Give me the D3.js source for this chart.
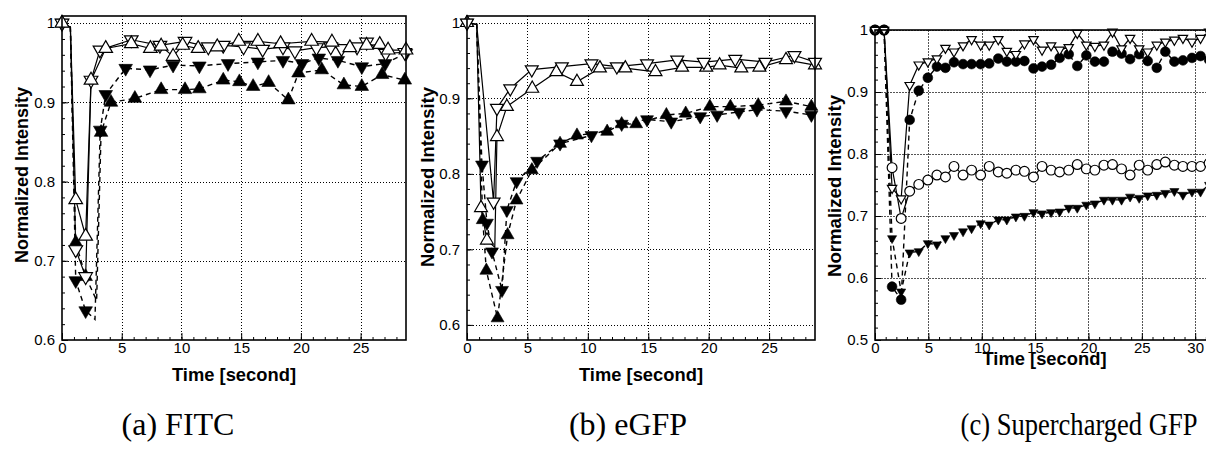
<!DOCTYPE html>
<html>
<head>
<meta charset="utf-8">
<script src="https://cdn.jsdelivr.net/npm/d3@7"></script>
<style>
  body { margin: 0; background: #fff; }
  svg { display: block; }
</style>
</head>
<body>
<svg id="fig"></svg>
<script>
// ---------------- data ----------------
// (a) FITC : [time (s), normalized intensity]
const fitcOpenUp = [[0,1.0],[0.7,0.995],[1.15,0.777],[1.98,0.731],[2.43,0.928],[3.66,0.968],[5.8,0.974],[7.4,0.968],[8.3,0.971],[9.3,0.958],[10.1,0.972],[11.4,0.968],[13.0,0.970],[14.8,0.977],[16.4,0.977],[18.3,0.974],[20.9,0.977],[22.6,0.976],[24.1,0.969],[25.5,0.972],[26.6,0.973],[27.3,0.966],[28.8,0.966]];
const fitcOpenDown = [[0,1.0],[0.7,0.995],[1.15,0.714],[1.98,0.680],[2.43,0.928],[3.18,0.966],[5.8,0.979],[8.2,0.972],[10.3,0.977],[12.25,0.970],[13.5,0.972],[15.2,0.970],[16.8,0.967],[18.5,0.970],[19.5,0.965],[21.3,0.969],[22.5,0.970],[23.4,0.968],[24.7,0.970],[25.5,0.976],[27.1,0.962],[28.7,0.963]];
const fitcFilledDown = [[0,1.0],[0.7,0.995],[1.15,0.675],[1.98,0.637],[2.76,0.626],[3.2,0.865],[3.66,0.910],[5.33,0.943],[7.37,0.941],[9.3,0.947],[11.5,0.946],[13.9,0.949],[16.4,0.951],[18.5,0.953],[20.1,0.949],[21.5,0.956],[23.1,0.953],[25.1,0.945],[27.05,0.949],[28.8,0.962]];
const fitcFilledUp = [[0,1.0],[0.7,0.995],[1.15,0.723],[1.98,0.680],[2.9,0.650],[3.27,0.862],[4.1,0.900],[6.1,0.905],[8.3,0.916],[10.3,0.916],[11.5,0.917],[13.5,0.928],[14.85,0.926],[16.0,0.920],[17.3,0.925],[18.95,0.903],[19.8,0.937],[21.75,0.941],[23.6,0.922],[25.1,0.920],[26.8,0.935],[28.7,0.928]];

// (b) eGFP
const egfpOpenUp = [[0,1.0],[0.8,0.998],[1.16,0.755],[1.65,0.712],[2.3,0.703],[2.48,0.849],[3.3,0.889],[5.4,0.913],[7.4,0.935],[9.1,0.922],[11.0,0.940],[13.1,0.940],[15.6,0.935],[17.8,0.941],[19.8,0.941],[20.9,0.944],[22.7,0.940],[24.2,0.941],[26.4,0.951],[28.8,0.944]];
const egfpOpenDown = [[0,1.0],[0.8,0.998],[2.2,0.763],[2.48,0.887],[3.58,0.913],[5.36,0.938],[7.85,0.942],[10.3,0.946],[12.4,0.942],[14.9,0.946],[17.4,0.951],[19.6,0.948],[22.2,0.952],[24.7,0.948],[27.1,0.957],[28.8,0.948]];
const egfpFilledDown = [[0,1.0],[0.8,0.998],[1.24,0.812],[1.65,0.735],[2.07,0.697],[2.9,0.646],[3.3,0.752],[4.1,0.790],[5.8,0.817],[7.7,0.840],[10.3,0.851],[12.8,0.866],[14.9,0.872],[16.9,0.869],[19.3,0.876],[20.7,0.878],[22.5,0.882],[24.0,0.885],[26.4,0.883],[28.5,0.878]];
const egfpFilledUp = [[0,1.0],[0.8,0.998],[1.3,0.739],[1.6,0.672],[2.53,0.609],[3.36,0.719],[4.1,0.765],[5.37,0.805],[7.7,0.840],[9.1,0.851],[11.6,0.856],[12.8,0.866],[14.0,0.866],[16.5,0.878],[18.1,0.880],[20.1,0.889],[21.8,0.889],[24.1,0.891],[26.4,0.896],[28.5,0.889]];

// (c) Supercharged GFP : common time base
const scTime = [0, 0.85, 1.6, 2.45, 3.25, 4.1, 4.95, 5.8, 6.6, 7.4, 8.25, 9.05, 9.9, 10.7, 11.55, 12.35, 13.2, 14.0, 14.85, 15.65, 16.5, 17.3, 18.15, 18.95, 19.8, 20.6, 21.45, 22.25, 23.1, 23.9, 24.75, 25.55, 26.4, 27.2, 28.05, 28.85, 29.7, 30.5, 31.3];
const scOpenDown = [1.0, 1.0, 0.745, 0.728, 0.911, 0.944, 0.949, 0.954, 0.971, 0.965, 0.975, 0.985, 0.976, 0.976, 0.985, 0.966, 0.961, 0.978, 0.985, 0.968, 0.975, 0.968, 0.972, 0.995, 0.976, 0.974, 0.976, 0.997, 0.970, 0.987, 0.970, 0.965, 0.976, 0.981, 0.984, 0.987, 0.981, 0.987, 0.997];
const scFilledCircle = [1.0, 1.0, 0.586, 0.565, 0.855, 0.902, 0.923, 0.941, 0.939, 0.948, 0.945, 0.945, 0.945, 0.946, 0.954, 0.949, 0.949, 0.950, 0.938, 0.941, 0.944, 0.955, 0.961, 0.942, 0.959, 0.949, 0.949, 0.965, 0.962, 0.953, 0.961, 0.950, 0.939, 0.965, 0.949, 0.951, 0.955, 0.958, 0.952];
const scOpenCircle = [1.0, 1.0, 0.778, 0.696, 0.740, 0.751, 0.758, 0.766, 0.763, 0.780, 0.766, 0.774, 0.766, 0.780, 0.771, 0.769, 0.774, 0.772, 0.763, 0.780, 0.774, 0.771, 0.774, 0.783, 0.776, 0.774, 0.782, 0.783, 0.776, 0.766, 0.782, 0.774, 0.783, 0.787, 0.782, 0.780, 0.780, 0.780, 0.785];
const scFilledDown = [1.0, 1.0, 0.664, 0.578, 0.641, 0.643, 0.656, 0.654, 0.664, 0.669, 0.675, 0.680, 0.688, 0.686, 0.694, 0.694, 0.699, 0.700, 0.706, 0.704, 0.706, 0.707, 0.713, 0.713, 0.718, 0.720, 0.726, 0.726, 0.726, 0.731, 0.729, 0.733, 0.734, 0.737, 0.740, 0.734, 0.739, 0.739, 0.750];

// tick labels
const timeTicks = [0, 5, 10, 15, 20, 25];
const timeTicksC = [0, 5, 10, 15, 20, 25, 30];
const intensityTicks = [0.6, 0.7, 0.8, 0.9, 1.0];
const intensityTicksC = [0.5, 0.6, 0.7, 0.8, 0.9, 1.0];
const captions = ["(a) FITC", "(b) eGFP", "(c) Supercharged GFP"];

const zipTime = vals => vals.map((v, i) => [scTime[i], v]);

// ---------------- layout ----------------
const W = 1206, H = 449;
const svg = d3.select("#fig").attr("width", W).attr("height", H);
const SANS = "'Liberation Sans', Arial, Helvetica, sans-serif";
const SERIF = "'Liberation Serif', 'Times New Roman', serif";

const up = d3.symbol().type(d3.symbolTriangle);
const circ = d3.symbol().type(d3.symbolCircle);

const panels = [
  {
    left: 62, right: 406, top: 16, bottom: 340,
    xDomain: [0, 28.8], yDomain: [0.6, 1.009],
    xTicks: timeTicks, yTicks: intensityTicks, yMinor: 0.02,
    grid: { color: "#000", dash: "1,2" },
    yTitle: { x: 21, y: 175, len: 176 }, xTitle: { y: 374, len: 124 },
    caption: { text: captions[0], x: 178, sx: 1 },
    series: [
      { data: fitcFilledUp, shape: "up", open: false, dashed: true, size: 80, bare: [1, 4] },
      { data: fitcFilledDown, shape: "down", open: false, dashed: true, size: 80, bare: [1, 4] },
      { data: fitcOpenDown, shape: "down", open: true, dashed: false, size: 80, bare: [1] },
      { data: fitcOpenUp, shape: "up", open: true, dashed: false, size: 80, bare: [1] }
    ]
  },
  {
    left: 467, right: 815, top: 16, bottom: 340,
    xDomain: [0, 28.8], yDomain: [0.58, 1.009],
    xTicks: timeTicks, yTicks: intensityTicks, yMinor: 0.02,
    grid: { color: "#000", dash: "1,2" },
    yTitle: { x: 427, y: 177, len: 180 }, xTitle: { y: 374, len: 124 },
    caption: { text: captions[1], x: 628, sx: 1 },
    series: [
      { data: egfpFilledUp, shape: "up", open: false, dashed: true, size: 72, bare: [1] },
      { data: egfpFilledDown, shape: "down", open: false, dashed: true, size: 72, bare: [1] },
      { data: egfpOpenUp, shape: "up", open: true, dashed: false, size: 72, bare: [1, 4] },
      { data: egfpOpenDown, shape: "down", open: true, dashed: false, size: 72, bare: [1] }
    ]
  },
  {
    left: 875, right: 1208, top: 30, bottom: 340,
    xDomain: [0, 31.2], yDomain: [0.5, 1.0],
    xTicks: timeTicksC, yTicks: intensityTicksC, yMinor: 0.02,
    grid: { color: "#555", dash: "2,1" },
    yTitle: { x: 834, y: 186, len: 182 }, xTitle: { y: 358, len: 124 },
    caption: { text: captions[2], x: 1079, sx: 0.83 },
    series: [
      { data: zipTime(scFilledDown), shape: "down", open: false, dashed: true, size: 36, bare: [] },
      { data: zipTime(scOpenCircle), shape: "circle", open: true, dashed: false, size: 75, bare: [] },
      { data: zipTime(scFilledCircle), shape: "circle", open: false, dashed: true, size: 75, bare: [] },
      { data: zipTime(scOpenDown), shape: "down", open: true, dashed: false, size: 38, bare: [] }
    ]
  }
];

const fmtY = d => d === 1 ? "1" : d3.format(".1f")(d);

panels.forEach(p => drawPanel(p));

function drawPanel(p) {
  const x = d3.scaleLinear().domain(p.xDomain).range([p.left, p.right]);
  const y = d3.scaleLinear().domain(p.yDomain).range([p.bottom, p.top]);
  const g = svg.append("g");

  // grid lines at the major ticks
  const grid = g.append("g")
    .attr("stroke", p.grid.color)
    .attr("stroke-width", 1)
    .attr("stroke-dasharray", p.grid.dash)
    .attr("shape-rendering", "crispEdges");
  grid.selectAll(".gx")
    .data(p.xTicks.filter(t => t > p.xDomain[0]))
    .join("line")
    .attr("x1", d => Math.round(x(d)) + 0.5).attr("x2", d => Math.round(x(d)) + 0.5)
    .attr("y1", p.top).attr("y2", p.bottom);
  grid.selectAll(".gy")
    .data(p.yTicks.filter(t => t > p.yDomain[0]))
    .join("line")
    .attr("x1", p.left).attr("x2", p.right)
    .attr("y1", d => Math.round(y(d)) + 0.5).attr("y2", d => Math.round(y(d)) + 0.5);

  // minor ticks (inward)
  const minorX = d3.range(Math.ceil(p.xDomain[0]), p.xDomain[1] + 1e-9, 1);
  const minorY = d3.range(p.yTicks[0], p.yDomain[1] + 1e-9, p.yMinor);
  g.append("g")
    .attr("transform", `translate(0,${p.bottom})`)
    .call(d3.axisBottom(x).tickValues(minorX).tickSize(-3).tickFormat(""))
    .call(a => a.select(".domain").remove());
  g.append("g")
    .attr("transform", `translate(${p.left},0)`)
    .call(d3.axisLeft(y).tickValues(minorY).tickSize(-3).tickFormat(""))
    .call(a => a.select(".domain").remove());

  // major ticks + labels
  g.append("g")
    .attr("transform", `translate(0,${p.bottom})`)
    .call(d3.axisBottom(x).tickValues(p.xTicks).tickSize(-7).tickPadding(2))
    .call(a => a.select(".domain").remove())
    .call(a => a.selectAll("text").attr("font-family", SANS).attr("font-size", 15).attr("fill", "#000"));
  g.append("g")
    .attr("transform", `translate(${p.left},0)`)
    .call(d3.axisLeft(y).tickValues(p.yTicks).tickSize(-6).tickPadding(7).tickFormat(fmtY))
    .call(a => a.select(".domain").remove())
    .call(a => a.selectAll("text").attr("font-family", SANS).attr("font-size", 15).attr("fill", "#000"));
  g.selectAll(".tick line").attr("stroke", "#000");

  // curves
  const line = d3.line().x(d => x(d[0])).y(d => y(d[1]));
  p.series.forEach(s => {
    g.append("path")
      .datum(s.data)
      .attr("d", line)
      .attr("fill", "none")
      .attr("stroke", "#000")
      .attr("stroke-width", s.dashed ? 1.4 : 1.2)
      .attr("stroke-dasharray", s.dashed ? "5,4" : null);
  });
  p.series.forEach(s => {
    const sym = s.shape === "circle" ? circ : up;
    const pts = s.data.filter((d, i) => !s.bare.includes(i));
    g.append("g").selectAll("path")
      .data(pts)
      .join("path")
      .attr("d", sym.size(s.size)())
      .attr("transform", d => `translate(${x(d[0])},${y(d[1])})` + (s.shape === "down" ? " rotate(180)" : ""))
      .attr("fill", s.open ? "#fff" : "#000")
      .attr("stroke", "#000")
      .attr("stroke-width", s.open ? 1.2 : 0.6);
  });

  // frame
  g.append("rect")
    .attr("x", p.left).attr("y", p.top)
    .attr("width", p.right - p.left).attr("height", p.bottom - p.top)
    .attr("fill", "none").attr("stroke", "#000").attr("stroke-width", 1.6);

  // axis titles
  g.append("text")
    .attr("transform", `translate(${p.yTitle.x},${p.yTitle.y}) rotate(-90)`)
    .attr("text-anchor", "middle").attr("dominant-baseline", "central")
    .attr("font-family", SANS).attr("font-weight", "bold").attr("font-size", 19)
    .attr("textLength", p.yTitle.len).attr("lengthAdjust", "spacingAndGlyphs")
    .text("Normalized Intensity");
  g.append("text")
    .attr("x", (p.left + Math.min(p.right, W)) / 2 + (p.right > W ? 4 : 0)).attr("y", p.xTitle.y)
    .attr("text-anchor", "middle").attr("dominant-baseline", "central")
    .attr("font-family", SANS).attr("font-weight", "bold").attr("font-size", 19)
    .attr("textLength", p.xTitle.len).attr("lengthAdjust", "spacingAndGlyphs")
    .text("Time [second]");

  // caption (narrowed with a horizontal scale where the original is condensed)
  svg.append("text")
    .attr("transform", `translate(${p.caption.x},435) scale(${p.caption.sx},1)`)
    .attr("text-anchor", "middle")
    .attr("font-family", SERIF).attr("font-size", 32)
    .text(p.caption.text);
}
</script>
</body>
</html>
